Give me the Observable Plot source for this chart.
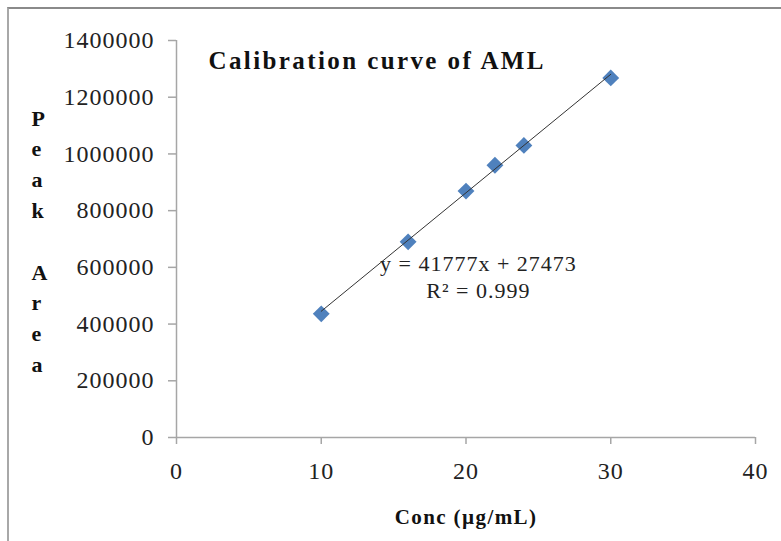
<!DOCTYPE html>
<html>
<head>
<meta charset="utf-8">
<script src="https://cdn.jsdelivr.net/npm/d3@7"></script>
<script src="https://cdn.jsdelivr.net/npm/@observablehq/plot@0.6"></script>
<style>
  html, body { margin: 0; padding: 0; background: white; }
  #wrap { position: relative; width: 781px; height: 541px; overflow: hidden; }
  #frame { position: absolute; left: 7px; top: 7px; right: -10px; bottom: -10px;
           border-top: 2px solid #8a8a8a; border-left: 2px solid #a8a8a8; pointer-events: none; }
  .chart-title text { letter-spacing: 2.4px; }
  .x-label text { letter-spacing: 1.4px; }
</style>
</head>
<body>
<div id="wrap"><div id="frame"></div></div>
<script>
// Data
const conc = [10, 16, 20, 22, 24, 30];
const peakArea = [436000, 690000, 869000, 960000, 1030000, 1268000];
const xTicks = [0, 10, 20, 30, 40];
const yTicks = [0, 200000, 400000, 600000, 800000, 1000000, 1200000, 1400000];
const slope = 41777;
const intercept = 27473;
const trendRange = [10, 30];
const titleText = "Calibration curve of AML";
const xLabel = "Conc (µg/mL)";
const yLabel = "Peak Area";
const equationText = "y = 41777x + 27473\nR² = 0.999";
const equationAt = {x: 20.86, y: 569000};

const points = conc.map((c, i) => ({x: c, y: peakArea[i]}));
const trend = trendRange.map(x => ({x, y: slope * x + intercept}));

const axisGray = "#a6a6a6";
const chart = Plot.plot({
  width: 781,
  height: 541,
  marginLeft: 176,
  marginRight: 26,
  marginTop: 40,
  marginBottom: 104,
  x: {domain: [0, 40]},
  y: {domain: [0, 1400000]},
  style: {fontFamily: "'Liberation Serif', 'Times New Roman', serif", fontSize: "24px", color: "#222", background: "transparent", letterSpacing: "1px"},
  marks: [
    Plot.ruleY([0], {stroke: axisGray, strokeWidth: 1.5}),
    Plot.ruleX([0], {stroke: axisGray, strokeWidth: 1.5}),
    Plot.axisY({ticks: yTicks, tickSize: 8, tickPadding: 14, stroke: axisGray, strokeWidth: 1.5, tickFormat: d => String(d), label: null}),
    Plot.axisX({ticks: xTicks, tickSize: 7, tickPadding: 17, stroke: axisGray, strokeWidth: 1.5, tickFormat: d => String(d), label: null}),
    Plot.dot(points, {x: "x", y: "y", symbol: "diamond2", r: 7.6, fill: "#4f81bd", stroke: "none"}),
    Plot.line(trend, {x: "x", y: "y", stroke: "#333", strokeWidth: 1}),
    Plot.text([titleText], {className: "chart-title", frameAnchor: "top-left", dx: 32, dy: 20, text: d => d, textAnchor: "start", lineAnchor: "middle", fontWeight: "bold", fontSize: 25, fill: "#111"}),
    Plot.text([equationText], {x: () => equationAt.x, y: () => equationAt.y, text: d => d, lineAnchor: "middle", lineHeight: 1.23, fontSize: 22, fill: "#222"}),
    Plot.text([xLabel], {className: "x-label", frameAnchor: "bottom", dy: 80, text: d => d, lineAnchor: "middle", fontWeight: "bold", fontSize: 21, fill: "#111"}),
    Plot.text([yLabel.split("").join("\n")], {frameAnchor: "left", dx: -145, dy: 0, text: d => d, lineAnchor: "middle", lineHeight: 1.4, fontWeight: "bold", fontSize: 22, fill: "#111"})
  ]
});
document.getElementById("wrap").prepend(chart);
</script>
</body>
</html>
